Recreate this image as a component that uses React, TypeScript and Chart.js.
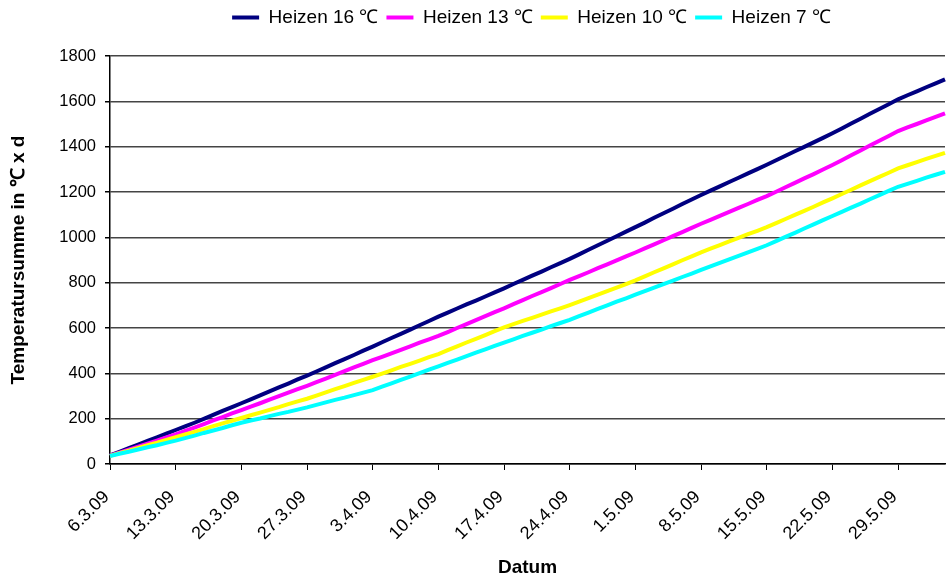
import React, { useEffect, useRef } from 'react';
import { Chart, registerables } from 'chart.js';

Chart.register(...registerables);

// Categories (daily dates)
const dates = [
  '6.3.09', '7.3.09', '8.3.09', '9.3.09', '10.3.09', '11.3.09', '12.3.09', '13.3.09', '14.3.09', '15.3.09',
  '16.3.09', '17.3.09', '18.3.09', '19.3.09', '20.3.09', '21.3.09', '22.3.09', '23.3.09', '24.3.09', '25.3.09',
  '26.3.09', '27.3.09', '28.3.09', '29.3.09', '30.3.09', '31.3.09',
  '1.4.09', '2.4.09', '3.4.09', '4.4.09', '5.4.09', '6.4.09', '7.4.09', '8.4.09', '9.4.09', '10.4.09',
  '11.4.09', '12.4.09', '13.4.09', '14.4.09', '15.4.09', '16.4.09', '17.4.09', '18.4.09', '19.4.09', '20.4.09',
  '21.4.09', '22.4.09', '23.4.09', '24.4.09', '25.4.09', '26.4.09', '27.4.09', '28.4.09', '29.4.09', '30.4.09',
  '1.5.09', '2.5.09', '3.5.09', '4.5.09', '5.5.09', '6.5.09', '7.5.09', '8.5.09', '9.5.09', '10.5.09',
  '11.5.09', '12.5.09', '13.5.09', '14.5.09', '15.5.09', '16.5.09', '17.5.09', '18.5.09', '19.5.09', '20.5.09',
  '21.5.09', '22.5.09', '23.5.09', '24.5.09', '25.5.09', '26.5.09', '27.5.09', '28.5.09', '29.5.09', '30.5.09',
  '31.5.09', '1.6.09', '2.6.09', '3.6.09',
];

// Series values (°C x d, cumulative)
const heizen16 = [
  38, 54, 70, 86, 102, 118, 134, 150, 166, 182,
  199, 217, 234, 251, 268, 285, 303, 320, 338, 355,
  373, 390, 408, 426, 445, 463, 481, 500, 518, 537,
  556, 574, 593, 612, 631, 650, 668, 686, 704, 721,
  739, 757, 775, 794, 812, 831, 849, 868, 886, 905,
  925, 945, 965, 985, 1005, 1025, 1045, 1065, 1086, 1106,
  1126, 1147, 1167, 1187, 1206, 1225, 1244, 1263, 1282, 1301,
  1320, 1340, 1360, 1380, 1399, 1419, 1439, 1459, 1480, 1502,
  1523, 1545, 1566, 1587, 1609, 1627, 1644, 1662, 1679, 1697,
];

const heizen13 = [
  37, 50, 63, 76, 90, 103, 117, 131,
  146, 161, 176, 192, 207, 223, 238,
  253, 268, 284, 299, 315, 330, 345,
  361, 377, 393, 410, 426, 442, 458,
  473, 488, 504, 519, 535, 550, 565,
  582, 600, 617, 635, 652, 670, 687,
  705, 723, 741, 758, 776, 794, 812,
  829, 846, 864, 881, 898, 916, 933,
  951, 969, 987, 1005, 1023, 1042, 1060,
  1077, 1095, 1112, 1130, 1147, 1165, 1182,
  1201, 1221, 1240, 1260, 1279, 1299, 1319,
  1340, 1362, 1383, 1405, 1426, 1447, 1469,
  1485, 1500, 1516, 1531, 1547,
];

const heizen10 = [
  36, 48, 59, 71, 83, 94, 106, 118,
  130, 142, 154, 167, 179, 191, 203,
  215, 227, 239, 251, 264, 276, 288,
  302, 316, 330, 344, 358, 371, 385,
  399, 413, 428, 442, 456, 471, 485,
  502, 519, 536, 552, 569, 586, 603,
  617, 631, 645, 659, 673, 687, 701,
  716, 732, 747, 763, 778, 794, 810,
  828, 846, 863, 881, 899, 916, 934,
  950, 966, 982, 998, 1014, 1029, 1045,
  1063, 1081, 1099, 1117, 1135, 1154, 1172,
  1191, 1210, 1229, 1248, 1267, 1285, 1304,
  1318, 1332, 1346, 1359, 1373,
];

const heizen7 = [
  35, 45, 54, 64, 74, 83, 93, 103,
  114, 125, 137, 148, 159, 171, 182,
  192, 201, 211, 221, 230, 240, 250,
  261, 272, 283, 293, 304, 315, 326,
  341, 356, 371, 386, 401, 416, 431,
  446, 461, 476, 491, 506, 521, 536,
  550, 565, 579, 593, 608, 622, 636,
  652, 668, 684, 700, 716, 731, 747,
  763, 778, 794, 809, 825, 840, 856,
  872, 887, 903, 918, 934, 949, 965,
  983, 1002, 1020, 1039, 1057, 1076, 1094,
  1112, 1131, 1149, 1168, 1186, 1205, 1223,
  1236, 1249, 1263, 1276, 1289,
];

const seriesNames = ['Heizen 16 ℃', 'Heizen 13 ℃', 'Heizen 10 ℃', 'Heizen 7 ℃'];
const seriesColors = ['#000080', '#FF00FF', '#FFFF00', '#00FFFF'];
const yMin = 0;
const yMax = 1800;
const yStep = 200;
const xLabelEvery = 7;
const yTitle = 'Temperatursumme in ℃ x d';
const xTitle = 'Datum';

const FONT = "'Liberation Sans', Arial, sans-serif";

export default function App() {
  const ref = useRef<HTMLCanvasElement | null>(null);

  useEffect(() => {
    document.body.style.margin = '0';
    const canvas = ref.current;
    if (!canvas) return;

    const legendSpacer = {
      id: 'legendSpacer',
      beforeInit(chart: any) {
        const legend = chart.legend;
        if (!legend) return;
        const orig = legend.fit;
        legend.fit = function () {
          orig.call(this);
          this.height += 19;
        };
      },
      afterLayout(chart: any) {
        const legend = chart.legend;
        if (!legend) return;
        // center the legend over the plot area
        legend.left = chart.chartArea.left + 8;
        legend.right = chart.chartArea.right;
        legend.width = legend.right - legend.left;
      },
    };

    const values = [heizen16, heizen13, heizen10, heizen7];

    const chart = new Chart(canvas, {
      type: 'line',
      data: {
        labels: dates,
        datasets: values.map((v, i) => ({
          label: seriesNames[i],
          data: v,
          borderColor: seriesColors[i],
          backgroundColor: seriesColors[i],
          borderWidth: 4,
          pointRadius: 0,
          pointHoverRadius: 0,
          tension: 0,
          fill: false,
          order: 4 - i,
        })),
      },
      options: {
        responsive: false,
        animation: false,
        layout: { padding: { left: 0, right: 1, top: 0, bottom: 0 } },
        plugins: {
          tooltip: { enabled: false },
          legend: {
            position: 'top',
            align: 'center',
            labels: {
              boxWidth: 27,
              boxHeight: 4,
              padding: 8,
              color: '#000',
              font: { family: FONT, size: 19 },
              sort: (a: any, b: any) => a.datasetIndex - b.datasetIndex,
              generateLabels: (ch: any) => {
                const items = Chart.defaults.plugins.legend.labels.generateLabels(ch);
                return items.map((it: any) => ({ ...it, lineWidth: 0, strokeStyle: it.fillStyle }));
              },
            },
          },
        },
        scales: {
          x: {
            type: 'category',
            offset: false,
            afterFit: (scale: any) => {
              scale.height = 113;
            },
            afterBuildTicks: (scale: any) => {
              scale.ticks = scale.ticks.filter((t: any) => t.value % xLabelEvery === 0);
            },
            ticks: {
              autoSkip: false,
              minRotation: 45,
              maxRotation: 45,
              padding: 13,
              color: '#000',
              font: { family: FONT, size: 18 },
              callback: function (this: any, v: any) {
                return this.getLabelForValue(v) + ' ';
              },
            },
            grid: {
              display: true,
              drawOnChartArea: false,
              drawTicks: true,
              tickLength: 6,
              tickColor: '#000',
              color: '#000',
            },
            border: { display: true, color: '#000', width: 1.5 },
            title: {
              display: true,
              text: xTitle,
              color: '#000',
              padding: { top: 0, bottom: -2 },
              font: { family: FONT, size: 19, weight: 'bold' },
            },
          },
          y: {
            min: yMin,
            max: yMax,
            afterFit: (scale: any) => {
              scale.width = 110;
            },
            ticks: {
              stepSize: yStep,
              padding: 9,
              color: '#000',
              font: { family: FONT, size: 16.5 },
              callback: (v: any) => String(v),
            },
            grid: {
              display: true,
              drawOnChartArea: true,
              drawTicks: true,
              tickLength: 5,
              color: '#444',
              lineWidth: 1.5,
              tickColor: '#000',
            },
            border: { display: true, color: '#000', width: 1.5 },
            title: {
              display: true,
              text: yTitle,
              color: '#000',
              padding: { top: 7, bottom: 0 },
              font: { family: FONT, size: 19, weight: 'bold' },
            },
          },
        },
      },
      plugins: [legendSpacer],
    } as any);

    return () => {
      chart.destroy();
    };
  }, []);

  return <canvas ref={ref} width={946} height={577} style={{ display: 'block' }} />;
}
